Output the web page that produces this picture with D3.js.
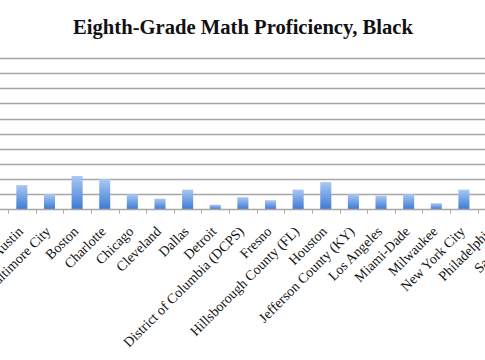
<!DOCTYPE html>
<html>
<head>
<meta charset="utf-8">
<script src="https://cdn.jsdelivr.net/npm/d3@7"></script>
<style>
  html, body { margin: 0; padding: 0; background: #fff; }
  svg { display: block; }
</style>
</head>
<body>
<svg id="chart" width="485" height="360"></svg>
<script>
const districts = ["Atlanta", "Austin", "Baltimore City", "Boston", "Charlotte", "Chicago", "Cleveland", "Dallas", "Detroit", "District of Columbia (DCPS)", "Fresno", "Hillsborough County (FL)", "Houston", "Jefferson County (KY)", "Los Angeles", "Miami-Dade", "Milwaukee", "New York City", "Philadelphia", "San Diego"];
const proficient = [9, 16, 10, 22, 20, 10, 7, 13, 3, 8, 6, 13, 18, 10, 9, 10, 4, 13, 8, 12];
const yTicks = [0, 10, 20, 30, 40, 50, 60, 70, 80, 90, 100];
const titleText = "Eighth-Grade Math Proficiency, Black";

const svg = d3.select("#chart");

// plot area extends beyond the visible window (cropped chart)
const plotLeft = -19.6, step = 27.63;
const plotRight = plotLeft + step * districts.length;
const plotTop = 58, plotBottom = 209.3;

const x = d3.scaleBand().domain(districts).range([plotLeft, plotRight]).padding(0);
const y = d3.scaleLinear().domain([0, 100]).range([plotBottom, plotTop]);

const defs = svg.append("defs");
const grad = defs.append("linearGradient").attr("id", "barGrad")
  .attr("x1", 0).attr("y1", 0).attr("x2", 0).attr("y2", 1);
grad.append("stop").attr("offset", "0%").attr("stop-color", "#a9c8f4");
grad.append("stop").attr("offset", "100%").attr("stop-color", "#3d7ad3");

// gridlines
svg.append("g").selectAll("line").data(yTicks.slice(1)).join("line")
  .attr("x1", plotLeft).attr("x2", plotRight)
  .attr("y1", d => Math.round(y(d)) + 0.5).attr("y2", d => Math.round(y(d)) + 0.5)
  .attr("stroke", "#a6a6a6").attr("stroke-width", 1.3);

// bars
const bw = x.step() * 0.4;
svg.append("g").selectAll("rect").data(districts).join("rect")
  .attr("x", d => x(d) + (x.step() - bw) / 2)
  .attr("width", bw)
  .attr("y", (d, i) => y(proficient[i]))
  .attr("height", (d, i) => y(0) - y(proficient[i]))
  .attr("fill", "url(#barGrad)");

// baseline axis
const base = Math.round(y(0)) + 0.5;
svg.append("line").attr("x1", plotLeft).attr("x2", plotRight)
  .attr("y1", base).attr("y2", base).attr("stroke", "#a6a6a6").attr("stroke-width", 1.3);

// tick marks at category boundaries
const bounds = districts.map(d => x(d)).concat([plotRight]);
svg.append("g").selectAll("line").data(bounds).join("line")
  .attr("x1", d => Math.round(d) + 0.5).attr("x2", d => Math.round(d) + 0.5)
  .attr("y1", base).attr("y2", base + 4)
  .attr("stroke", "#a6a6a6").attr("stroke-width", 1);

// category labels, rotated -45
svg.append("g").selectAll("text").data(districts).join("text")
  .attr("transform", d => `translate(${x(d) + x.step() / 2 + 2},${plotBottom + 23}) rotate(-45)`)
  .attr("text-anchor", "end")
  .attr("font-family", "Liberation Serif, serif")
  .attr("font-size", 14)
  .attr("fill", "#111")
  .text(d => d);

// title
const t = svg.append("text")
  .attr("x", 243).attr("y", 34)
  .attr("text-anchor", "middle")
  .attr("font-family", "Liberation Serif, serif")
  .attr("font-weight", "bold")
  .attr("font-size", 20)
  .attr("fill", "#111")
  .text(titleText);
const tw = t.node().getComputedTextLength();
t.attr("font-size", 20 * 340 / tw);
</script>
</body>
</html>
